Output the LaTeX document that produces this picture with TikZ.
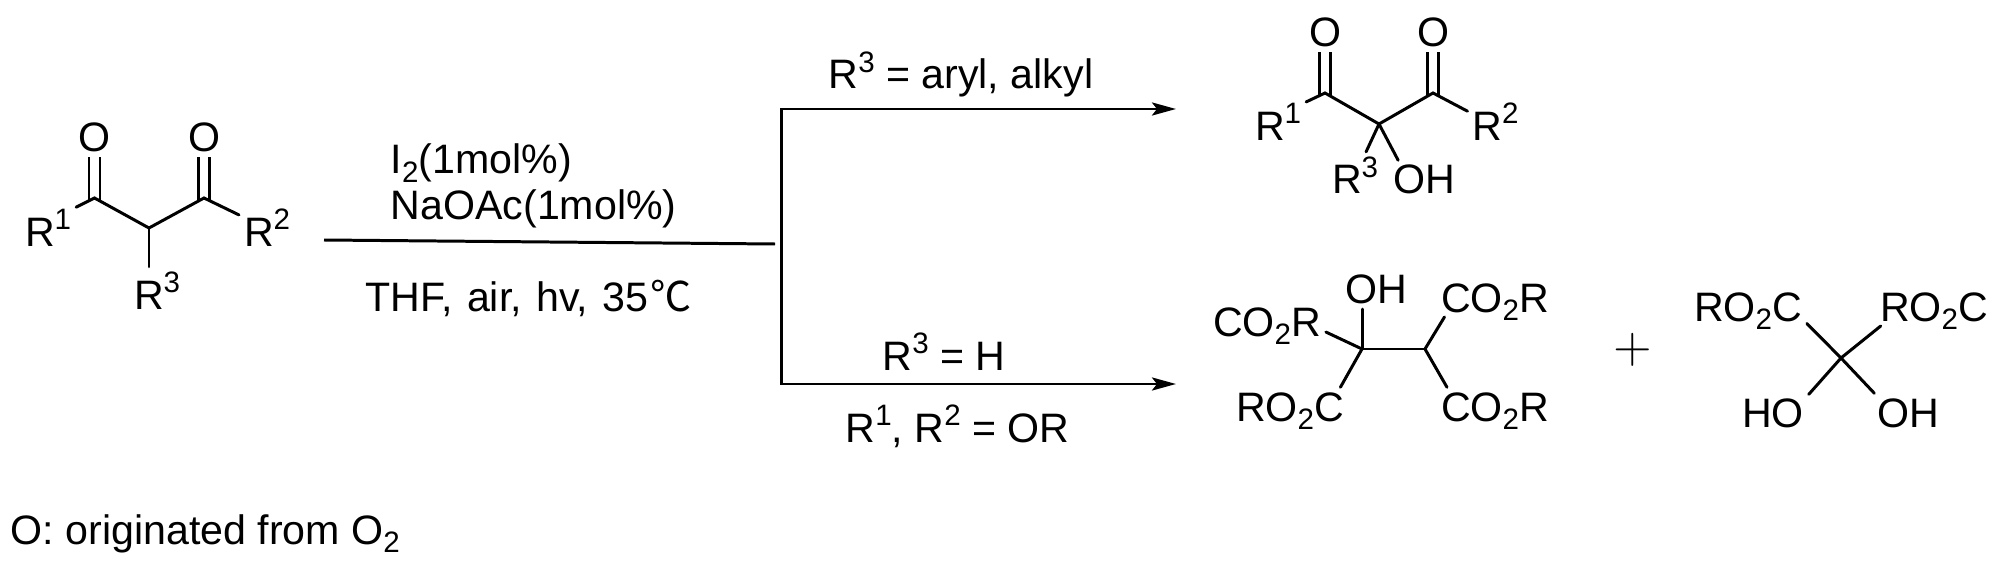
\documentclass[tikz,border=0pt]{standalone}
\usepackage{fontspec}
\setmainfont{Liberation Sans}
\newfontfamily\cjk{Noto Sans CJK SC}
\usetikzlibrary{arrows.meta}
\newcommand{\supr}[1]{\raisebox{0.165cm}{\fontsize{8.4}{8.4}\selectfont #1}}
\newcommand{\subr}[1]{\raisebox{-0.08cm}{\fontsize{8.4}{8.4}\selectfont #1}}
\tikzset{
  atom/.style={anchor=base west, inner sep=0.5mm, outer sep=0pt, text depth=0pt, font=\fontsize{11.7}{14}\selectfont},
  oxy/.style={anchor=center, inner sep=0.5mm, outer sep=0pt, font=\fontsize{11.7}{14}\selectfont},
  txt/.style={anchor=base west, inner sep=0pt, font=\fontsize{11.7}{14}\selectfont},
  bond/.style={line width=0.85pt, line cap=round},
  dbond/.style={double, double distance=0.8mm, line width=0.85pt, shorten <=-0.3mm},
  rxn/.style={line width=0.85pt},
  rxnarrow/.style={rxn, -{Stealth[length=2.4mm, width=1.3mm, inset=0.5mm]}}
}
\begin{document}
\begin{tikzpicture}[x=0.01cm, y=-0.01cm]
\useasboundingbox (0,0) rectangle (2000,567);

\coordinate (c1) at (94.5,198);
\coordinate (c0) at (149,228);
\coordinate (c2) at (204,198);
\node[oxy] (o1) at (94.5,137) {O};
\node[oxy] (o2) at (204,137) {O};
\node[atom] (r1) at (20,246) {R\supr{1}};
\node[atom] (r2) at (239,246) {R\supr{2}};
\node[atom] (r3) at (129,309) {R\supr{3}};
\draw[dbond] (c1) -- (o1);
\draw[dbond] (c2) -- (o2);
\draw[bond] (r1.36) -- (c1) -- (c0) -- (c2) -- (r2.156);
\draw[bond] (c0) -- (c0 |- r3.north);

\node[txt] (cat) at (390,174) {I\subr{2}(1mol\%)};
\node[txt] (base) at (390,220) {NaOAc(1mol\%)};
\node[txt] (cond) at (365,311) {THF,\hspace{0.145cm}air,\hspace{0.145cm}hv,\hspace{0.145cm}35\hspace{0.02cm}{\cjk ℃}};
\coordinate (start) at (324,240);
\coordinate (stop) at (775,244);
\draw[rxn] (start) -- (stop);

\coordinate (up) at (781,109);
\coordinate (down) at (781,384);
\coordinate (upend) at (1176,109);
\coordinate (downend) at (1176,384);
\draw[rxnarrow] (down) -- (up) -- (upend);
\draw[rxnarrow] (up) -- (down) -- (downend);
\node[txt] (cond1) at (828,89) {R\supr{3} = aryl, alkyl};
\node[txt] (cond2) at (882,370) {R\supr{3} = H};
\node[txt] (cond3) at (845,442) {R\supr{1}, R\supr{2} = OR};

\coordinate (p1) at (1325,93);
\coordinate (p0) at (1379,124);
\coordinate (p2) at (1433,93);
\node[oxy] (po1) at (1325,32) {O};
\node[oxy] (po2) at (1433,32) {O};
\node[atom] (pr1) at (1250,140) {R\supr{1}};
\node[atom] (pr2) at (1467.5,140) {R\supr{2}};
\node[atom] (pr3) at (1327,194) {R\supr{3}};
\node[atom] (poh) at (1388,194) {OH};
\draw[dbond] (p1) -- (po1);
\draw[dbond] (p2) -- (po2);
\draw[bond] (pr1.35) -- (p1) -- (p0) -- (p2) -- (pr2.160);
\draw[bond] (p0) -- (pr3.65);
\draw[bond] (p0) -- (poh.143);

\coordinate (q1) at (1362,349);
\coordinate (q2) at (1425,349);
\node[atom] (qoh) at (1340,304) {OH};
\node[atom] (qa) at (1208,336) {CO\subr{2}R};
\node[atom] (qb) at (1231,421) {RO\subr{2}C};
\node[atom] (qc) at (1436,312) {CO\subr{2}R};
\node[atom] (qd) at (1436,421) {CO\subr{2}R};
\draw[bond] (q1) -- (q2);
\draw[bond] (q1) -- (q1 |- qoh.south);
\draw[bond] (q1) -- (qa.-10);
\draw[bond] (q1) -- (qb.21);
\draw[bond] (q2) -- (qc.201);
\draw[bond] (q2) -- (qd.158);

\node (plus) at (1633,350) {\fontsize{15}{15}\selectfont $+$};

\coordinate (m0) at (1841,358);
\node[atom] (ma) at (1689,321) {RO\subr{2}C};
\node[atom] (mb) at (1875,321) {RO\subr{2}C};
\node[atom] (mc) at (1737,427) {HO};
\node[atom] (md) at (1872,427) {OH};
\draw[bond] (m0) -- (ma.-16);
\draw[bond] (m0) -- (mb.200);
\draw[bond] (m0) -- (mc.27);
\draw[bond] (m0) -- (md.150);

\node[txt] (note) at (10,544) {O: originated from O\subr{2}};
\end{tikzpicture}
\end{document}
